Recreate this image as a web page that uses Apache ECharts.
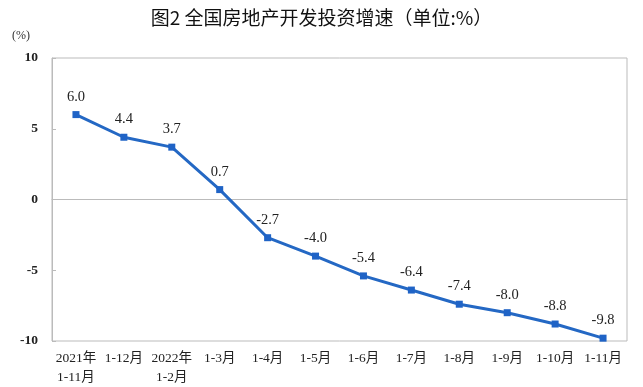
<!DOCTYPE html>
<html><head><meta charset="utf-8">
<script src="https://cdn.jsdelivr.net/npm/echarts@6/dist/echarts.min.js"></script>
<style>html,body{margin:0;padding:0;background:#fff}#c{width:643px;height:387px}</style>
</head><body><div id="c"></div>
<script>
const categories = ["2021年\n1-11月","1-12月","2022年\n1-2月","1-3月","1-4月","1-5月","1-6月","1-7月","1-8月","1-9月","1-10月","1-11月"];
const values = [6.0, 4.4, 3.7, 0.7, -2.7, -4.0, -5.4, -6.4, -7.4, -8.0, -8.8, -9.8];
const titleText = "图2 全国房地产开发投资增速（单位:%）";
const unitText = "(%)";

const chart = echarts.init(document.getElementById('c'), null, {renderer:'canvas'});
const serif = '"Liberation Serif","Noto Sans CJK SC",serif';
chart.setOption({
  animation:false,
  title:{text:titleText,left:'center',top:3,textStyle:{fontFamily:'"Noto Sans CJK SC",sans-serif',fontSize:19,fontWeight:'normal',color:'#111'}},
  graphic:[{type:'text',left:12,top:30,style:{text:unitText,fontFamily:serif,fontSize:12,fill:'#333'}}],
  grid:{left:52,right:16,top:58,bottom:46,show:true,borderColor:'#bbb',borderWidth:1},
  xAxis:{type:'category',data:categories,boundaryGap:true,
    axisLine:{lineStyle:{color:'#bbb'}},
    axisTick:{inside:true,length:5,lineStyle:{color:'#bbb'}},
    axisLabel:{interval:0,fontFamily:serif,fontSize:13.5,color:'#222',margin:8,lineHeight:19}},
  yAxis:{type:'value',min:-10,max:10,interval:5,
    splitLine:{show:false},
    axisLine:{show:true,lineStyle:{color:'#bbb'}},
    axisTick:{show:true,inside:true,length:4,lineStyle:{color:'#bbb'}},
    axisLabel:{fontFamily:serif,fontSize:13.5,fontWeight:'bold',color:'#222',margin:14}},
  series:[{type:'line',data:values,symbol:'rect',symbolSize:7,
    lineStyle:{color:'#2468c4',width:3},itemStyle:{color:'#1f63c6'},
    label:{show:true,position:'top',distance:7,fontFamily:serif,fontSize:14.5,color:'#222',formatter:p=>p.value.toFixed(1)}}]
});
</script></body></html>
